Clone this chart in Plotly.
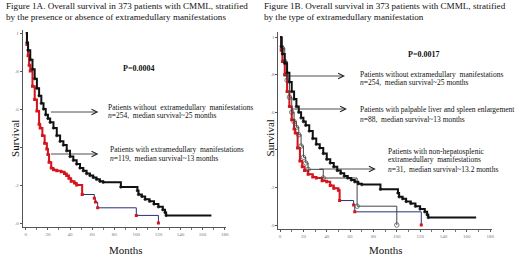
import plotly.graph_objects as go

W, H = 520, 257

# ---------------- data ----------------
month_ticks = [0, 20, 40, 60, 80, 100, 120, 140, 160, 180]
surv_ticks = [0, 0.2, 0.4, 0.6, 0.8, 1.0]
surv_tick_labels = [".0", ".2", ".4", ".6", ".8", "1"]

# patients without extramedullary manifestations (n=254)
no_em_t = [0, 1, 2, 4, 6, 8, 10, 12, 14, 16, 18, 20, 22, 25, 28, 31, 34, 37, 40, 43, 46, 49,
           52, 55, 58, 61, 64, 67, 70, 86, 101, 102, 105, 108, 112, 116, 120, 124, 126, 127, 168]
no_em_s = [1.0, 0.95, 0.91, 0.86, 0.81, 0.76, 0.71, 0.67, 0.63, 0.60, 0.57, 0.55, 0.53, 0.50,
           0.46, 0.43, 0.41, 0.38, 0.35, 0.33, 0.31, 0.29, 0.275, 0.26, 0.25, 0.24, 0.23, 0.22,
           0.215, 0.19, 0.17, 0.15, 0.14, 0.125, 0.115, 0.10, 0.085, 0.07, 0.055, 0.04, 0.04]

# patients with extramedullary manifestations (n=119)
em_t = [0, 1, 2, 3, 4, 6, 8, 10, 12, 13, 15, 17, 19, 20, 21, 23, 25, 28, 32, 35, 37, 39, 41,
        44, 46, 51, 62, 63, 65, 100, 120]
em_s = [1.0, 0.94, 0.88, 0.83, 0.80, 0.72, 0.65, 0.59, 0.52, 0.50, 0.46, 0.42, 0.39, 0.36,
        0.32, 0.29, 0.28, 0.275, 0.27, 0.26, 0.25, 0.235, 0.22, 0.21, 0.20, 0.15, 0.13, 0.11,
        0.08, 0.04, 0.0]

# palpable liver and spleen enlargement (n=88)
pl_t = [0, 1, 2, 4, 6, 8, 10, 12, 13, 15, 17, 19, 21, 24, 28, 31, 36, 40, 43, 46, 50, 51,
        63, 64, 121]
pl_s = [1.0, 0.93, 0.87, 0.80, 0.71, 0.63, 0.56, 0.51, 0.49, 0.41, 0.34, 0.31, 0.29, 0.27,
        0.255, 0.25, 0.235, 0.23, 0.21, 0.195, 0.185, 0.13, 0.106, 0.07, 0.0]

# non-hepatosplenic extramedullary manifestations (n=31)
nh_t = [0, 2, 4, 6, 8, 10, 12, 14, 16, 18, 20, 22, 24, 37, 66, 100]
nh_s = [1.0, 0.94, 0.87, 0.77, 0.68, 0.60, 0.55, 0.52, 0.48, 0.42, 0.36, 0.33, 0.296, 0.25,
        0.10, 0.0]

RED_UNTIL = 51  # months; later steps of the red curves are drawn in navy

# ---------------- helpers ----------------
def px(x):
    return x / W

def py(y):
    return 1 - y / H

SERIF = "Liberation Serif"
BLACK = "#111111"
RED = "#d7141c"
NAVY = "#2b2f7a"
GREY = "#444444"

fig = go.Figure()


def km(t, s, xa, ya, color, width, msize, symbol, mcolor=None, last_marker=True):
    sizes = [msize] * len(t)
    sizes[0] = 0
    if not last_marker:
        sizes[-1] = 0
    fig.add_trace(go.Scatter(
        x=t, y=s, xaxis=xa, yaxis=ya, mode="lines+markers", line_shape="hv",
        line=dict(color=color, width=width),
        marker=dict(size=sizes, symbol=symbol, color=mcolor or color,
                    line=dict(color=mcolor or color, width=1)),
        showlegend=False, hoverinfo="skip"))


def km_red(t, s, xa, ya):
    fig.add_trace(go.Scatter(x=t, y=s, xaxis=xa, yaxis=ya, mode="lines", line_shape="hv",
                             line=dict(color=NAVY, width=1), showlegend=False,
                             hoverinfo="skip"))
    k = sum(1 for v in t if v <= RED_UNTIL)
    fig.add_trace(go.Scatter(x=t[:k], y=s[:k], xaxis=xa, yaxis=ya, mode="lines",
                             line_shape="hv", line=dict(color=RED, width=2),
                             showlegend=False, hoverinfo="skip"))
    fig.add_trace(go.Scatter(x=t[1:], y=s[1:], xaxis=xa, yaxis=ya, mode="markers",
                             marker=dict(size=3, symbol="square", color=RED),
                             showlegend=False, hoverinfo="skip"))


# Left panel
km_red(em_t, em_s, "x", "y")
km(no_em_t, no_em_s, "x", "y", BLACK, 2, 2.5, "circle", last_marker=False)

# Right panel
km_red(pl_t, pl_s, "x2", "y2")
km(nh_t, nh_s, "x2", "y2", GREY, 1, 4.5, "circle-open", mcolor=GREY)
km(no_em_t, no_em_s, "x2", "y2", BLACK, 2, 2.5, "circle", last_marker=False)

axis_common = dict(
    showgrid=False, zeroline=False, showline=True, linecolor="#555555", linewidth=1,
    ticks="outside", ticklen=2, tickcolor="#555555",
    tickfont=dict(family=SERIF, size=5, color="#777777"),
)

fig.update_layout(
    width=W, height=H, margin=dict(l=0, r=0, t=0, b=0),
    paper_bgcolor="white", plot_bgcolor="white",
    xaxis=dict(domain=[px(23), px(227)], range=[-2.7, 180.9], anchor="y",
               tickvals=month_ticks, minor=dict(ticks="outside", ticklen=1.5, dtick=10,
                                                tickcolor="#777777"),
               **axis_common),
    yaxis=dict(domain=[py(227), py(30)], range=[-0.021, 1.016], anchor="x",
               tickvals=surv_ticks, ticktext=surv_tick_labels, **axis_common),
    xaxis2=dict(domain=[px(280), px(495)], range=[-1.45, 181.7], anchor="y2",
                tickvals=month_ticks, minor=dict(ticks="outside", ticklen=1.5, dtick=10,
                                                 tickcolor="#777777"),
                **axis_common),
    yaxis2=dict(domain=[py(229), py(32)], range=[-0.0213, 1.0266], anchor="x2",
                tickvals=surv_ticks, ticktext=surv_tick_labels, **axis_common),
)

ann = []

def text(x, y, s, size=7.5, xanchor="left", bold=False, angle=0):
    if bold:
        s = "<b>" + s + "</b>"
    ann.append(dict(x=px(x), y=py(y), xref="paper", yref="paper", text=s, showarrow=False,
                    xanchor=xanchor, yanchor="middle", textangle=angle,
                    font=dict(family=SERIF, size=size, color="#111111")))

def arrow(x0, x1, y):
    ann.append(dict(x=px(x1), y=py(y), xref="paper", yref="paper", text="",
                    showarrow=True, ax=x0 - x1, ay=0, axref="pixel", ayref="pixel",
                    arrowhead=5, arrowsize=1.4, arrowwidth=0.8, arrowcolor="#222222",
                    standoff=0, startstandoff=0))

# titles
text(4, 6, "Figure 1A. Overall survival in 373 patients with CMML, stratified", 9.1)
text(4, 17, "by the presence or absence of extramedullary manifestations", 9.1)
text(264, 6, "Figure 1B. Overall survival in 373 patients with CMML, stratified", 9.1)
text(264, 17, "by the type of extramedullary manifestation", 9.1)

# axis titles
text(15, 138, "Survival", 11, xanchor="center", angle=-90)
text(272, 138, "Survival", 11, xanchor="center", angle=-90)
text(127, 250, "Months", 11, xanchor="center")
text(388, 250, "Months", 11, xanchor="center")

# left annotations
text(139, 69, "P=0.0004", 8, xanchor="center", bold=True)
arrow(50, 99, 112)
text(107, 107, "Patients without  extramedullary  manifestations")
text(107, 116, "<i>n</i>=254,  median survival~25 months")
arrow(50, 99, 154)
text(109, 149, "Patients with extramedullary  manifestations")
text(109, 158, "<i>n</i>=119,  median survival~13 months")

# right annotations
text(426, 54, "P=0.0017", 8, xanchor="center", bold=True)
arrow(284, 347, 76)
text(360, 74, "Patients without extramedullary  manifestations")
text(360, 83, "<i>n</i>=254,  median survival~25 months")
arrow(293, 349, 109)
text(360, 109, "Patients with palpable liver and spleen enlargement")
text(360, 119, "<i>n</i>=88,  median survival~13 months")
arrow(320, 378, 169)
text(388, 151, "Patients with non-hepatosplenic")
text(388, 159, "extramedullary  manifestations")
text(388, 169, "<i>n</i>=31,  median survival~13.2 months")

fig.update_layout(annotations=ann)

fig.write_html("out.html", config={"displayModeBar": False},
               post_script="document.body.style.margin='0px';document.body.style.overflow='hidden';")
